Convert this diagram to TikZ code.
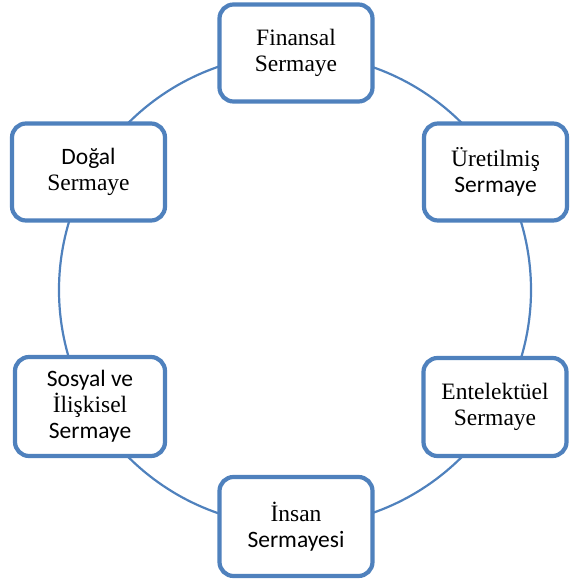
\documentclass[tikz,border=0pt]{standalone}
\usepackage{fontspec}
\setmainfont{Liberation Serif}
\newfontfamily\sansyazi{Carlito}
\definecolor{kutumavi}{HTML}{4F81BD}
\tikzset{kutu/.style={draw=kutumavi,line width=4.2pt,fill=white,rounded corners=14pt,
    minimum width=153pt,minimum height=97pt,inner sep=0pt,align=center,
    font=\fontsize{23.5}{26}\selectfont}}
\begin{document}
\begin{tikzpicture}[x=1pt,y=-1pt]
  \useasboundingbox (0,0) rectangle (571,584);
  \node[] (M) at (295,290) {};
  \draw[kutumavi,line width=2.2pt] (M) circle (236pt);
  \node[kutu] (F) at (296,53) {Finansal\\Sermaye};
  \node[kutu,minimum width=143pt] (U) at (495.5,172) {Üretilmiş\\{\sansyazi Sermaye}};
  \node[kutu,minimum width=143pt,minimum height=98pt] (E) at (495,407) {Entelektüel\\Sermaye};
  \node[kutu,minimum height=99pt] (I) at (296,526.5) {İnsan\\{\sansyazi Sermayesi}};
  \node[kutu,minimum width=150pt,minimum height=99pt] (S) at (90,406.5) {{\sansyazi Sosyal ve}\\İlişkisel\\{\sansyazi Sermaye}};
  \node[kutu] (D) at (88.5,172) {{\sansyazi Doğal}\\Sermaye};
\end{tikzpicture}
\end{document}
